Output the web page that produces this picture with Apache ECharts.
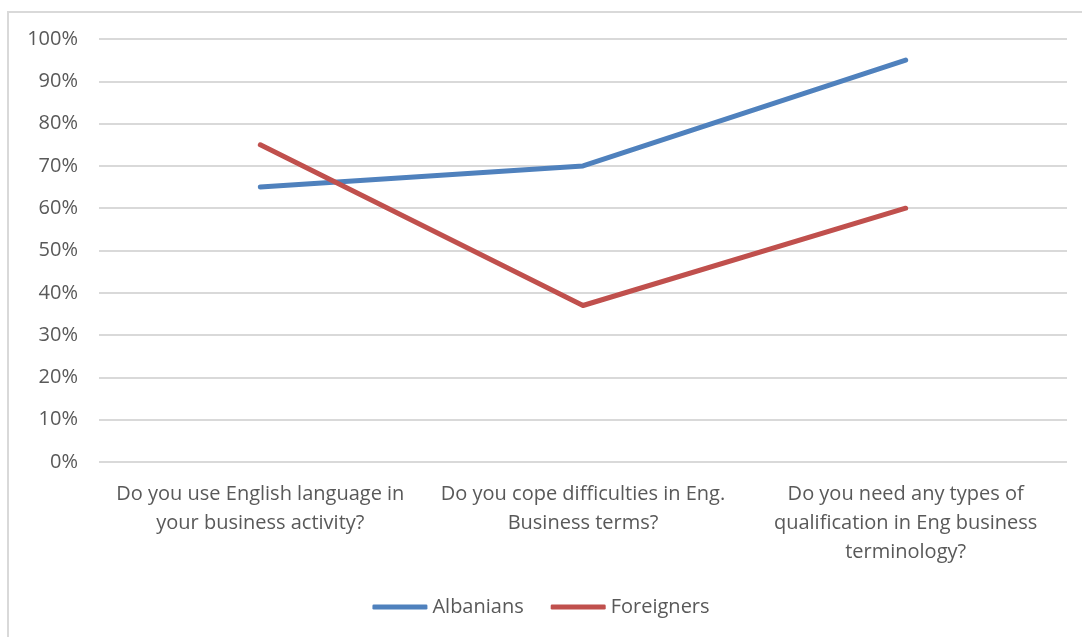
<!DOCTYPE html>
<html><head><meta charset="utf-8">
<script src="https://cdn.jsdelivr.net/npm/echarts@6/dist/echarts.min.js"></script>
<style>html,body{margin:0;padding:0;background:#fff}#c{width:1082px;height:637px;position:relative}
#frame{position:absolute;left:7px;top:11px;width:1100px;height:700px;border:2px solid #d9d9d9;box-sizing:border-box;pointer-events:none}</style>
</head><body><div id="c"></div><div id="frame"></div>
<script>
const categories = [
  "Do you use English language in\nyour business activity?",
  "Do you cope difficulties in Eng.\nBusiness terms?",
  "Do you need any types of\nqualification in Eng business\nterminology?"
];
const albanians = [65, 70, 95];
const foreigners = [75, 37, 60];
const seriesNames = ["Albanians", "Foreigners"];

const chart = echarts.init(document.getElementById('c'));
const font = 'Open Sans';
chart.setOption({
  animation: false,
  grid: {left: 99, right: 15, top: 39, bottom: 175, containLabel: false},
  legend: {
    top: 592, left: 'center', itemWidth: 55, itemHeight: 5, itemGap: 27, icon: 'roundRect',
    textStyle: {fontFamily: font, fontSize: 20, color: '#595959'},
    data: seriesNames
  },
  xAxis: {
    type: 'category', data: categories, boundaryGap: true,
    axisLine: {show: false}, axisTick: {show: false},
    axisLabel: {interval: 0, margin: 18, fontFamily: font, fontSize: 20, color: '#595959', lineHeight: 29}
  },
  yAxis: {
    type: 'value', min: 0, max: 100, interval: 10,
    axisLabel: {formatter: '{value}%', fontFamily: font, fontSize: 20, color: '#595959', margin: 21},
    axisLine: {show: false}, axisTick: {show: false},
    splitLine: {lineStyle: {color: '#d9d9d9', width: 2}}
  },
  series: [
    {name: seriesNames[0], type: 'line', data: albanians, symbol: 'none', color: '#4F81BD',
     lineStyle: {width: 5, cap: 'round', join: 'round', color: '#4F81BD'}},
    {name: seriesNames[1], type: 'line', data: foreigners, symbol: 'none', color: '#C0504D',
     lineStyle: {width: 5, cap: 'round', join: 'round', color: '#C0504D'}}
  ]
});
</script></body></html>
